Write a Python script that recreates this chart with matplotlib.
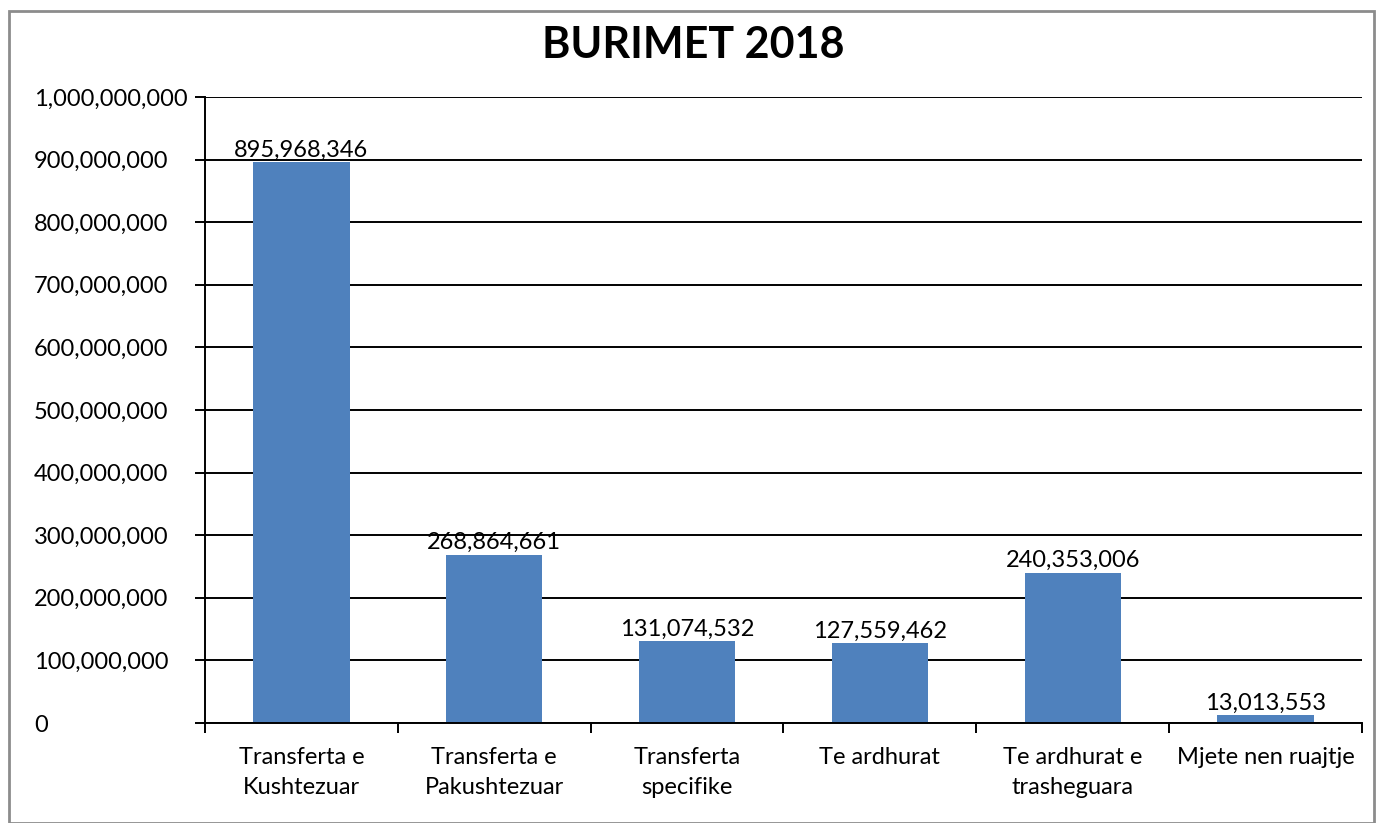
import matplotlib
matplotlib.use("Agg")
import matplotlib.pyplot as plt
from matplotlib.patches import Rectangle
from matplotlib.ticker import FuncFormatter, FixedLocator

categories = ["Transferta e\nKushtezuar", "Transferta e\nPakushtezuar", "Transferta\nspecifike",
              "Te ardhurat", "Te ardhurat e\ntrasheguara", "Mjete nen ruajtje"]
values = [895968346, 268864661, 131074532, 127559462, 240353006, 13013553]
yticks = list(range(0, 1000000001, 100000000))
title = "BURIMET 2018"

W, H = 1378, 823
plt.rcParams['font.family'] = ['Lato', 'DejaVu Sans']
fig = plt.figure(figsize=(W / 100, H / 100), dpi=100)

# outer frame
fig.patches.append(Rectangle((9 / W, 0), (1374 - 9) / W, 1 - 11 / H, transform=fig.transFigure,
                             fill=False, edgecolor='#8c8c8c', linewidth=2))

ax_left = 205
ax = fig.add_axes([ax_left / W, 1 - 723 / H, (1362 - ax_left) / W, (723 - 97) / H])
x = list(range(len(categories)))
ax.bar(x, values, width=0.5, color='#4F81BD', zorder=3)
ax.set_xlim(-0.5, len(categories) - 0.5)
ax.set_ylim(0, 1000000000)

tick_len_pt = 7.2
ax.set_yticks(yticks)
ax.yaxis.set_major_formatter(FuncFormatter(lambda v, p: f"{int(v):,}"))
ax.grid(axis='y', color='black', linewidth=1.4, zorder=1)
label_left_px = 34
ypad_pt = (ax_left - label_left_px) * 0.72 - tick_len_pt
ax.tick_params(axis='y', length=tick_len_pt, width=1.4, color='black', labelsize=17, pad=ypad_pt)
for lbl in ax.get_yticklabels():
    lbl.set_horizontalalignment('left')

ax.xaxis.set_major_locator(FixedLocator([i - 0.5 for i in range(len(categories) + 1)]))
ax.xaxis.set_minor_locator(FixedLocator(x))
ax.set_xticklabels([], minor=False)
ax.set_xticklabels(categories, minor=True)
ax.tick_params(axis='x', which='major', length=tick_len_pt, width=1.4, color='black')
ax.tick_params(axis='x', which='minor', length=0, labelsize=17, pad=17)
for lbl in ax.get_xticklabels(minor=True):
    lbl.set_linespacing(1.55)

for s in ['top', 'right']:
    ax.spines[s].set_visible(False)
ax.spines['left'].set_linewidth(1.4)
ax.spines['bottom'].set_linewidth(1.4)
ax.spines['bottom'].set_zorder(4)

for xi, v in zip(x, values):
    ax.annotate(f"{v:,}", (xi, v), xytext=(0, 1), textcoords='offset points',
                ha='center', va='bottom', fontsize=17)

fig.text(693 / W, 1 - 45 / H, title, ha='center', va='center', fontsize=31, fontweight='bold')

fig.savefig("out.png", dpi=100)
